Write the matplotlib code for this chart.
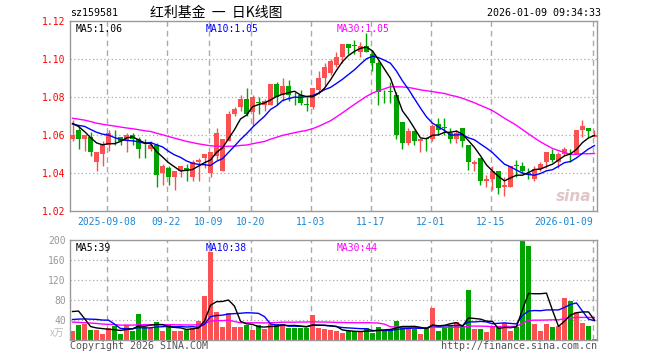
import numpy as np
import pandas as pd
import matplotlib
matplotlib.use("Agg")
import matplotlib.pyplot as plt
from matplotlib.transforms import ScaledTranslation

# trading days shown (national day week and new year closed)
days = pd.bdate_range("2025-08-29", "2026-01-09")
closed = pd.to_datetime(["2025-10-01", "2025-10-02", "2025-10-03", "2025-10-06",
                         "2025-10-07", "2025-10-08", "2026-01-01", "2026-01-02"])
days = days[~days.isin(closed)]

open_ = [1.058, 1.063, 1.058, 1.059, 1.046, 1.050, 1.055, 1.060, 1.059, 1.057,
         1.060, 1.058, 1.052, 1.053, 1.055, 1.040, 1.043, 1.038, 1.041, 1.043,
         1.038, 1.046, 1.048, 1.040, 1.049, 1.041, 1.057, 1.071, 1.075, 1.079,
         1.072, 1.077, 1.076, 1.076, 1.087, 1.081, 1.086, 1.082, 1.081, 1.076,
         1.075, 1.084, 1.090, 1.093, 1.097, 1.101, 1.108, 1.107, 1.104, 1.107,
         1.103, 1.098, 1.082, 1.083, 1.081, 1.067, 1.056, 1.062, 1.057, 1.058,
         1.058, 1.066, 1.064, 1.061, 1.058, 1.064, 1.055, 1.045, 1.048, 1.036,
         1.037, 1.041, 1.033, 1.033, 1.044, 1.044, 1.040, 1.037, 1.042, 1.046,
         1.050, 1.046, 1.050, 1.050, 1.050, 1.063, 1.064, 1.059]
high = [1.068, 1.065, 1.060, 1.062, 1.051, 1.057, 1.063, 1.063, 1.059, 1.061,
        1.061, 1.059, 1.058, 1.057, 1.056, 1.045, 1.044, 1.041, 1.044, 1.045,
        1.047, 1.048, 1.050, 1.051, 1.064, 1.058, 1.073, 1.075, 1.081, 1.085,
        1.081, 1.080, 1.079, 1.087, 1.088, 1.090, 1.089, 1.083, 1.084, 1.080,
        1.085, 1.094, 1.098, 1.100, 1.104, 1.108, 1.108, 1.110, 1.109, 1.114,
        1.105, 1.099, 1.084, 1.088, 1.083, 1.067, 1.064, 1.063, 1.058, 1.059,
        1.066, 1.069, 1.069, 1.064, 1.063, 1.064, 1.055, 1.047, 1.048, 1.039,
        1.044, 1.041, 1.038, 1.044, 1.047, 1.046, 1.043, 1.044, 1.046, 1.051,
        1.053, 1.051, 1.054, 1.053, 1.063, 1.068, 1.064, 1.063]
low = [1.057, 1.053, 1.052, 1.049, 1.041, 1.044, 1.052, 1.055, 1.055, 1.051,
       1.055, 1.048, 1.048, 1.052, 1.033, 1.034, 1.034, 1.031, 1.038, 1.036,
       1.036, 1.036, 1.043, 1.038, 1.047, 1.041, 1.057, 1.070, 1.073, 1.070,
       1.065, 1.071, 1.073, 1.076, 1.076, 1.078, 1.078, 1.076, 1.076, 1.073,
       1.074, 1.082, 1.086, 1.092, 1.096, 1.098, 1.103, 1.103, 1.101, 1.104,
       1.094, 1.076, 1.077, 1.077, 1.058, 1.053, 1.055, 1.055, 1.051, 1.052,
       1.057, 1.060, 1.060, 1.056, 1.056, 1.054, 1.042, 1.041, 1.034, 1.033,
       1.031, 1.029, 1.028, 1.033, 1.038, 1.040, 1.037, 1.036, 1.041, 1.043,
       1.046, 1.043, 1.049, 1.046, 1.050, 1.059, 1.059, 1.059]
close = [1.060, 1.058, 1.060, 1.051, 1.051, 1.055, 1.061, 1.060, 1.057, 1.060,
         1.058, 1.053, 1.052, 1.055, 1.039, 1.044, 1.038, 1.041, 1.044, 1.041,
         1.046, 1.047, 1.050, 1.051, 1.061, 1.058, 1.071, 1.074, 1.079, 1.071,
         1.080, 1.077, 1.078, 1.087, 1.080, 1.086, 1.081, 1.082, 1.077, 1.076,
         1.085, 1.090, 1.096, 1.099, 1.101, 1.108, 1.106, 1.107, 1.107, 1.104,
         1.098, 1.083, 1.082, 1.083, 1.060, 1.056, 1.062, 1.057, 1.058, 1.058,
         1.065, 1.063, 1.064, 1.058, 1.061, 1.057, 1.046, 1.046, 1.036, 1.037,
         1.041, 1.032, 1.034, 1.044, 1.044, 1.041, 1.039, 1.042, 1.045, 1.051,
         1.047, 1.050, 1.053, 1.050, 1.063, 1.065, 1.062, 1.060]
vol = [18.7, 30, 32, 20, 20, 12, 23.3, 28, 12, 30,
       18, 52, 25.3, 23.3, 36, 18, 30, 18.7, 18.7, 20,
       24, 38.7, 88, 176.7, 56, 26, 53.3, 26, 26, 30.7,
       20, 30, 22.7, 32, 32, 33, 24.7, 24.7, 24.7, 24.7,
       50, 24.7, 22.7, 20, 18.7, 14, 17.3, 17.3, 17.3, 23.3,
       14, 26, 20.7, 22, 38.7, 28, 26, 22, 12, 26,
       64, 18, 26.7, 28.7, 36, 28.7, 100, 22, 22, 16,
       26, 28, 34.7, 18, 26, 198, 188.7, 32, 18, 32,
       26, 28, 84, 78.7, 56, 34, 28, 2]

# sessions before the window, back-solved from where the MA lines start
pre_close = [1.072, 1.075, 1.074, 1.076, 1.073, 1.075, 1.074, 1.073, 1.074,
             1.070, 1.068, 1.069, 1.066, 1.067, 1.068, 1.066, 1.067, 1.069,
             1.067, 1.066, 1.066, 1.065, 1.067, 1.066, 1.065,
             1.066, 1.073, 1.067, 1.065]
pre_vol = [48, 52, 40, 45, 50, 38, 44, 43,
           26, 24, 28, 22, 27, 25, 30, 23, 26, 24, 25, 26,
           22, 28, 25, 24, 26,
           25, 107, 100, 34]

tick_days = ["2025-09-08", "2025-09-22", "2025-10-09", "2025-10-20", "2025-11-03",
             "2025-11-17", "2025-12-01", "2025-12-15", "2026-01-09"]
tick_text = ["2025-09-08", "09-22", "10-09", "10-20", "11-03",
             "11-17", "12-01", "12-15", "2026-01-09"]

o = np.array(open_); h = np.array(high); l = np.array(low); c = np.array(close)
v = np.array(vol)
x = np.arange(len(days))
n_pre = len(pre_close)

def ma(pre, data, n):
    s = pd.Series(list(pre) + list(data)).rolling(n).mean()
    return s.values[n_pre:]

RED = "#fa5252"
GREEN = "#00a300"
GRID = "#aaaaaa"
MONO = "DejaVu Sans Mono"
cols = np.where(c > o, RED, GREEN)

fig = plt.figure(figsize=(6.6, 3.6), dpi=100)
ax = fig.add_axes([70 / 660, 1 - 211.3 / 360, 527 / 660, 190 / 360])
axv = fig.add_axes([70 / 660, 1 - 340 / 360, 527 / 660, 100 / 360])

grid_x = [days.get_loc(pd.Timestamp(d)) - 0.33 for d in tick_days]

for a in (ax, axv):
    for gx in grid_x:
        a.axvline(gx, color=GRID, lw=1, ls=(0, (4, 3)), zorder=0)
    for sp in a.spines.values():
        sp.set_color("#999999")
        sp.set_linewidth(1)
    a.set_xlim(-0.42, 87.42)
    a.tick_params(length=0)

# price panel
for gy in [1.04, 1.06, 1.08, 1.10]:
    ax.axhline(gy, color=GRID, lw=0.9, ls=(0, (1, 2)), zorder=0)
ax.vlines(x, l, h, colors=cols, lw=1, zorder=2)
body = np.maximum(np.abs(c - o), 0.0004)
ax.bar(x, body, bottom=np.minimum(o, c), width=0.82, color=cols, lw=0, zorder=3)

ma5 = ma(pre_close, c, 5)
ma10 = ma(pre_close, c, 10)
ma30 = ma(pre_close, c, 30)
ax.plot(x, ma30, color="#ff00ff", lw=1, zorder=4)
ax.plot(x, ma10, color="#0000ff", lw=1, zorder=4)
ax.plot(x, ma5, color="black", lw=1, zorder=5)

ax.set_ylim(1.02, 1.12)
yt = [1.02, 1.04, 1.06, 1.08, 1.10, 1.12]
ax.set_yticks(yt, ["%.2f" % t for t in yt])
ax.tick_params(axis="y", colors="red", labelsize=7, pad=3)
for t in ax.get_yticklabels():
    t.set_fontfamily(MONO)
ax.set_xticks(grid_x, tick_text)
ax.tick_params(axis="x", colors="#1a86d6", labelsize=7, pad=4)
for t in ax.get_xticklabels():
    t.set_fontfamily(MONO)
last = ax.get_xticklabels()[-1]
last.set_ha("right")
last.set_transform(last.get_transform() + ScaledTranslation(0.01, 0, fig.dpi_scale_trans))

ax.text(0.01, 0.985, "MA5:%.2f" % ma5[-1], transform=ax.transAxes, color="black",
        fontsize=7, family=MONO, va="top")
ax.text(0.258, 0.985, "MA10:%.2f" % ma10[-1], transform=ax.transAxes, color="#0000ff",
        fontsize=7, family=MONO, va="top")
ax.text(0.506, 0.985, "MA30:%.2f" % ma30[-1], transform=ax.transAxes, color="#ff00ff",
        fontsize=7, family=MONO, va="top")
ax.text(0.99, 0.04, "sina", transform=ax.transAxes, color="#d9b8b8", alpha=0.8,
        fontsize=11, fontweight="bold", style="italic", ha="right", va="bottom")

# volume panel
for gy in [40, 80, 120, 160]:
    axv.axhline(gy, color=GRID, lw=0.9, ls=(0, (1, 2)), zorder=0)
axv.bar(x, v, width=0.82, color=cols, lw=0, zorder=2)
vma5 = ma(pre_vol, v, 5)
vma10 = ma(pre_vol, v, 10)
vma30 = ma(pre_vol, v, 30)
axv.plot(x, vma30, color="#ff00ff", lw=1, zorder=3)
axv.plot(x, vma10, color="#0000ff", lw=1, zorder=3)
axv.plot(x, vma5, color="black", lw=1, zorder=4)
axv.set_ylim(0, 200)
vt = [40, 80, 120, 160, 200]
axv.set_yticks(vt, [str(t) for t in vt])
axv.tick_params(axis="y", colors="#999999", labelsize=7, pad=3)
for t in axv.get_yticklabels():
    t.set_fontfamily(MONO)
axv.set_xticks([])
axv.text(-0.01, 0.02, "x万", transform=axv.transAxes, color="#bbbbbb", fontsize=7,
         family=["Noto Sans CJK SC", "DejaVu Sans"], ha="right", va="bottom")

axv.text(0.01, 0.97, "MA5:%d" % int(vma5[-1]), transform=axv.transAxes,
         color="black", fontsize=7, family=MONO, va="top")
axv.text(0.258, 0.97, "MA10:%d" % int(vma10[-1]), transform=axv.transAxes,
         color="#0000ff", fontsize=7, family=MONO, va="top")
axv.text(0.506, 0.97, "MA30:%d" % int(vma30[-1]), transform=axv.transAxes,
         color="#ff00ff", fontsize=7, family=MONO, va="top")

# header / footer
fig.text(70 / 660, 1 - 13 / 360, "sz159581", fontsize=7.2, family=MONO, va="center")
fig.text(150 / 660, 1 - 13 / 360, "红利基金  一  日K线图", fontsize=10,
         family=["Noto Sans CJK SC", "DejaVu Sans"], va="center")
fig.text(601 / 660, 1 - 13 / 360, "2026-01-09 09:34:33", fontsize=7.2, family=MONO,
         va="center", ha="right")
fig.text(70 / 660, 1 - 346 / 360, "Copyright 2026 SINA.COM", fontsize=7.2,
         family=MONO, color="#555555", va="center")
fig.text(597 / 660, 1 - 346 / 360, "http://finance.sina.com.cn", fontsize=7.2,
         family=MONO, color="#555555", va="center", ha="right")

fig.savefig("out.png", dpi=100)
